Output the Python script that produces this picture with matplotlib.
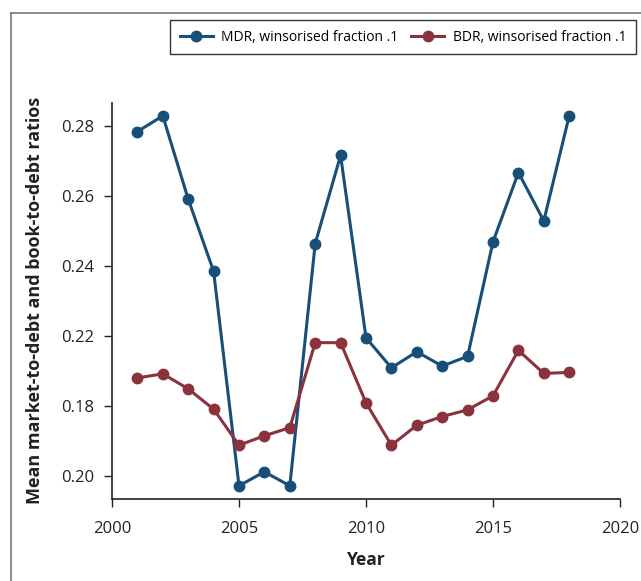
import matplotlib
matplotlib.use("Agg")
import matplotlib.pyplot as plt
from matplotlib.lines import Line2D

plt.rcParams['font.family'] = ['Open Sans', 'DejaVu Sans']

years = list(range(2001, 2019))
mdr = [0.2784, 0.2829, 0.2591, 0.2385, 0.1772, 0.1812, 0.1772, 0.2464, 0.2716,
       0.2195, 0.2109, 0.2155, 0.2114, 0.2142, 0.2469, 0.2667, 0.2529, 0.2829]
bdr = [0.2080, 0.2092, 0.2049, 0.1991, 0.1888, 0.1915, 0.1938, 0.2181, 0.2181,
       0.2009, 0.1888, 0.1945, 0.1970, 0.1989, 0.2029, 0.2159, 0.2093, 0.2096]
ytick_pos = [0.18, 0.20, 0.22, 0.24, 0.26, 0.28]
ytick_labels = ['0.20', '0.18', '0.22', '0.24', '0.26', '0.28']
xticks = [2000, 2005, 2010, 2015, 2020]
mdr_label = 'MDR, winsorised fraction .1'
bdr_label = 'BDR, winsorised fraction .1'

c_mdr = '#174f78'
c_bdr = '#8a333e'

W, H = 641, 581
fig = plt.figure(figsize=(W/100, H/100), dpi=100)
ax_l, ax_r, ax_t, ax_b = 112, 620, 103, 498.5
ax = fig.add_axes([ax_l/W, 1-ax_b/H, (ax_r-ax_l)/W, (ax_b-ax_t)/H])

ax.plot(years, mdr, color=c_mdr, lw=2.2, marker='o', ms=7.5, label=mdr_label)
ax.plot(years, bdr, color=c_bdr, lw=2.2, marker='o', ms=7.5, label=bdr_label)

ax.set_xlim(2000, 2020)
ax.set_ylim(0.18 - 22.5/3500, 0.28 + 23/3500)
ax.set_xticks(xticks)
ax.set_yticks(ytick_pos)
ax.set_yticklabels(ytick_labels)
for s in ['top', 'right']:
    ax.spines[s].set_visible(False)
for s in ['left', 'bottom']:
    ax.spines[s].set_linewidth(1.2)
    ax.spines[s].set_color('#222222')
ax.tick_params(axis='both', direction='out', length=6, width=1.0, colors='#222222',
               labelsize=12)
ax.tick_params(axis='y', pad=7)
ax.tick_params(axis='x', pad=10)

ax.set_xlabel('Year', fontsize=12.5, fontweight='bold', color='#222222')
ax.set_ylabel('Mean market-to-debt and book-to-debt ratios', fontsize=13,
              fontweight='bold', color='#222222')
ax.yaxis.set_label_coords((35 - ax_l)/(ax_r - ax_l), 0.5)
ax.xaxis.set_label_coords(0.5, -(560 - ax_b)/(ax_b - ax_t))
ax.xaxis.label.set_va('center')
ax.yaxis.label.set_va('center')

leg = fig.legend(loc='upper left', bbox_to_anchor=(170/W, 1-20/H), ncol=2,
                 fontsize=10, frameon=True, fancybox=False, edgecolor='black',
                 handlelength=2.4, handletextpad=0.6, columnspacing=0.9,
                 borderpad=0.7, borderaxespad=0)
leg.get_frame().set_linewidth(1.0)

fig.add_artist(Line2D([11/W, 11/W], [0, 1-13/H], transform=fig.transFigure,
                      color='#777777', lw=1.2))
fig.add_artist(Line2D([11/W, 1], [1-13/H, 1-13/H], transform=fig.transFigure,
                      color='#777777', lw=1.2))

fig.savefig('out.png', dpi=100)
